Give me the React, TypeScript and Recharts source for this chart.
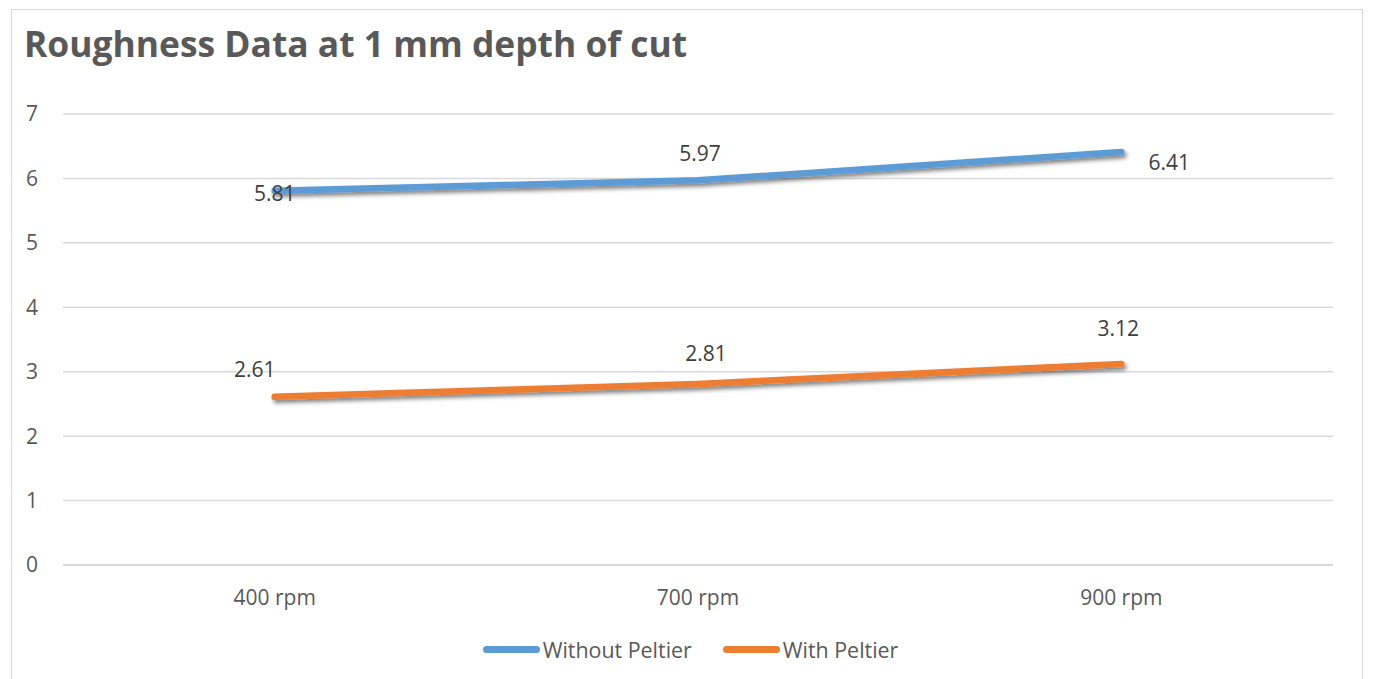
import { CartesianGrid, LabelList, Legend, Line, LineChart, XAxis, YAxis } from "recharts";

const categories = ["400 rpm", "700 rpm", "900 rpm"];
const withoutPeltier = [5.81, 5.97, 6.41];
const withPeltier = [2.61, 2.81, 3.12];
const yTicks = [0, 1, 2, 3, 4, 5, 6, 7];

// label nudges (dx, dy) from each point, hand placed like the workbook did
const withoutLabelShift = [
	[0, 2],
	[2, -27],
	[48, 10],
];
const withLabelShift = [
	[-20, -28],
	[8, -31],
	[-3, -36],
];

const BLUE = "#5B9BD5";
const ORANGE = "#ED7D31";
const TEXT = "#595959";
const GRID = "#D9D9D9";
const FONT = 21;

const chartData = categories.map((rpm, i) => ({
	rpm,
	without: withoutPeltier[i],
	with: withPeltier[i],
}));

const series = [
	{ key: "without", name: "Without Peltier", color: BLUE, shift: withoutLabelShift },
	{ key: "with", name: "With Peltier", color: ORANGE, shift: withLabelShift },
];

function makeLabel(shift: number[][]) {
	return (props: any) => {
		const { x, y, value, index } = props;
		const [dx, dy] = shift[index] ?? [0, 0];
		return (
			<text
				x={x + dx}
				y={y + dy}
				textAnchor="middle"
				dominantBaseline="central"
				fontSize={FONT}
				fill="#404040"
			>
				{value}
			</text>
		);
	};
}

function LegendRow() {
	return (
		<div
			style={{
				display: "flex",
				justifyContent: "center",
				alignItems: "center",
				height: 30,
				gap: 31,
				paddingLeft: 36,
				fontSize: 21.4,
				color: TEXT,
			}}
		>
			{series.map((s) => (
				<div key={s.key} style={{ display: "flex", alignItems: "center", gap: 3 }}>
					<span
						style={{
							display: "inline-block",
							width: 57,
							height: 7,
							borderRadius: 4,
							background: s.color,
						}}
					/>
					<span>{s.name}</span>
				</div>
			))}
		</div>
	);
}

export default function App() {
	return (
		<div
			style={{
				position: "relative",
				marginLeft: 3,
				marginTop: 1,
				width: 1350,
				height: 680,
				border: `1px solid ${GRID}`,
				borderBottom: "none",
				fontFamily: "'Open Sans', sans-serif",
				background: "#fff",
			}}
		>
			<div
				style={{
					position: "absolute",
					left: 12,
					top: 13,
					fontSize: 35.4,
					lineHeight: "40px",
					fontWeight: 700,
					color: TEXT,
					whiteSpace: "nowrap",
				}}
			>
				Roughness Data at 1 mm depth of cut
			</div>
			<div style={{ position: "absolute", left: 0, top: 0 }}>
				<LineChart
					width={1350}
					height={670}
					data={chartData}
					margin={{ top: 104, right: 29, left: 0, bottom: 16 }}
					accessibilityLayer={false}
				>
					<defs>
						<filter
							id="lineShadow"
							filterUnits="userSpaceOnUse"
							x="0"
							y="0"
							width="1400"
							height="700"
						>
							<feDropShadow dx="2" dy="3" stdDeviation="2" floodColor="#000" floodOpacity="0.5" />
						</filter>
					</defs>
					<CartesianGrid vertical={false} stroke={GRID} strokeWidth={1.5} />
					<XAxis
						dataKey="rpm"
						scale="band"
						height={69}
						axisLine={{ stroke: GRID, strokeWidth: 2 }}
						tickLine={false}
						tickSize={0}
						tickMargin={25}
						tick={{ fill: TEXT, fontSize: FONT }}
					/>
					<YAxis
						domain={[0, 7]}
						ticks={yTicks}
						width={51}
						axisLine={false}
						tickLine={false}
						tickSize={0}
						tickMargin={25}
						tick={{ fill: TEXT, fontSize: FONT }}
					/>
					<Legend verticalAlign="bottom" content={() => <LegendRow />} />
					{series.map((s) => (
						<Line
							key={s.key}
							type="linear"
							dataKey={s.key}
							name={s.name}
							stroke={s.color}
							strokeWidth={6.5}
							strokeLinecap="round"
							filter="url(#lineShadow)"
							dot={false}
							activeDot={false}
							isAnimationActive={false}
						>
							<LabelList dataKey={s.key} content={makeLabel(s.shift)} />
						</Line>
					))}
				</LineChart>
			</div>
		</div>
	);
}
